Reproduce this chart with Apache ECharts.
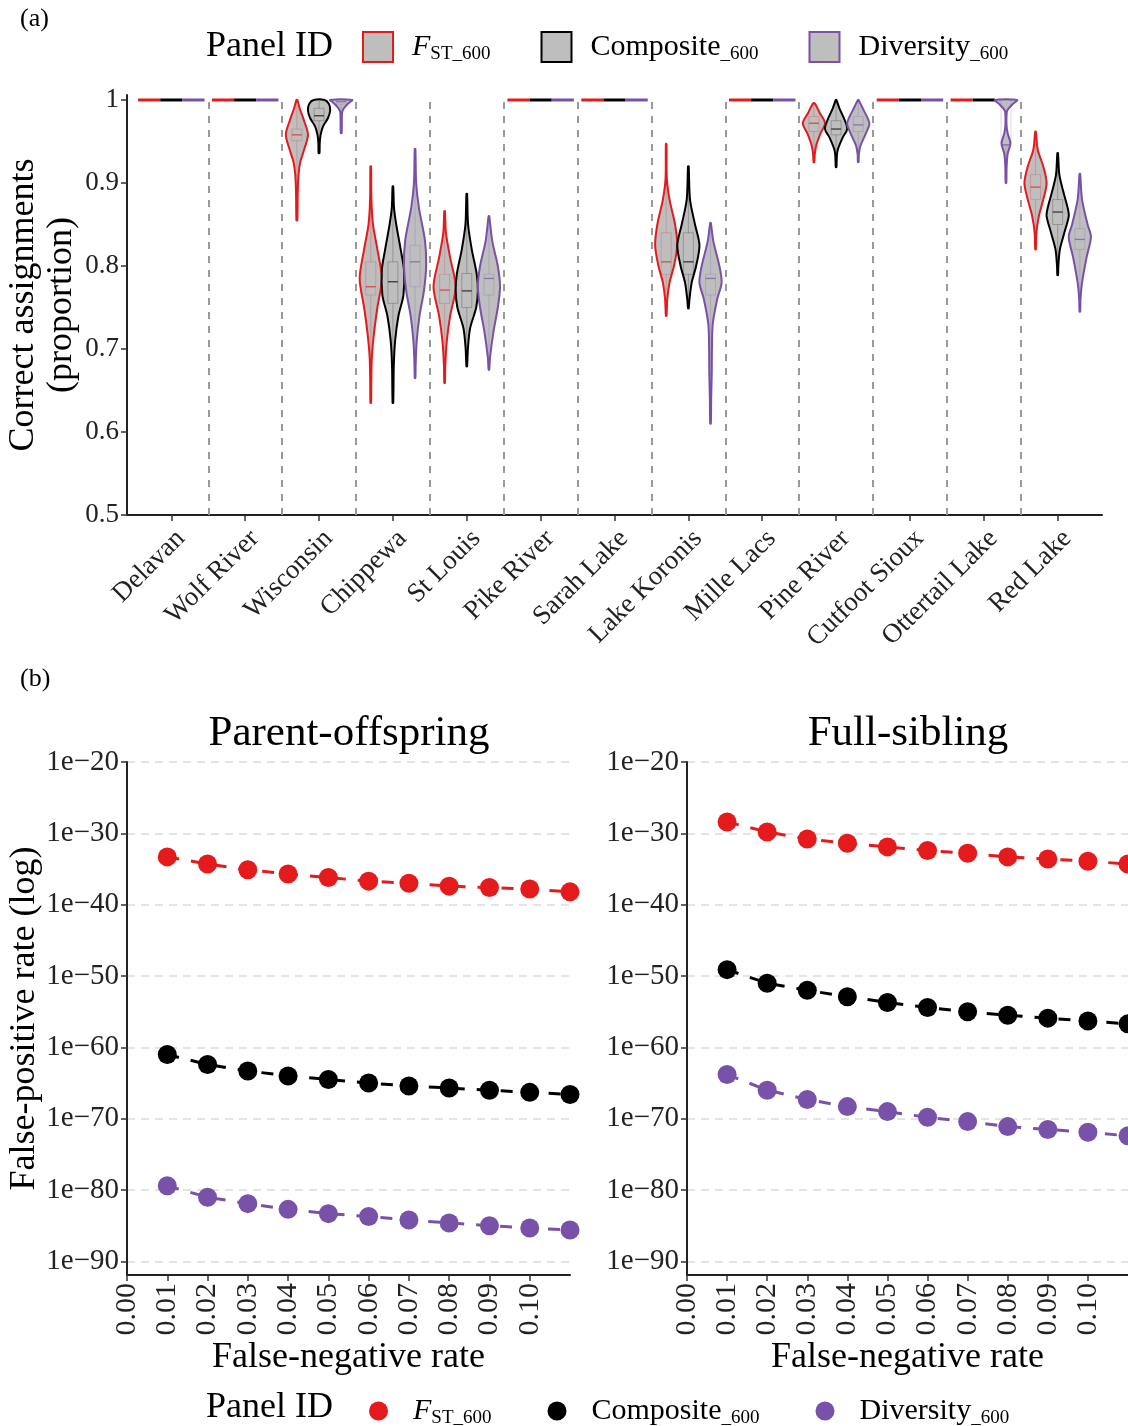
<!DOCTYPE html>
<html><head><meta charset="utf-8">
<script src="https://cdn.jsdelivr.net/npm/echarts@6/dist/echarts.min.js"></script>
<style>html,body{margin:0;padding:0;background:#fff}#c{width:1128px;height:1426px}</style>
</head><body><div id="c"></div><script>
// ---------- Panel (a) data ----------
const categories = ['Delavan','Wolf River','Wisconsin','Chippewa','St Louis','Pike River','Sarah Lake','Lake Koronis','Mille Lacs','Pine River','Cutfoot Sioux','Ottertail Lake','Red Lake'];
const seriesNames = ['FST_600','Composite_600','Diversity_600'];
const yTicksA = [0.5,0.6,0.7,0.8,0.9,1.0];
const FULL = [[1,1]];
// violin outlines: [proportion, relative half-width]
const fstProfiles = [FULL, FULL,
  [[1.0,0.04],[0.99,0.25],[0.975,0.65],[0.958,1.0],[0.94,0.65],[0.925,0.3],[0.91,0.15],[0.89,0.08],[0.855,0.04]],
  [[0.92,0.03],[0.88,0.06],[0.85,0.2],[0.82,0.6],[0.785,1.0],[0.75,0.6],[0.72,0.3],[0.69,0.1],[0.66,0.05],[0.635,0.03]],
  [[0.866,0.03],[0.84,0.12],[0.81,0.5],[0.775,1.0],[0.74,0.5],[0.71,0.2],[0.68,0.06],[0.659,0.03]],
  FULL, FULL,
  [[0.947,0.03],[0.905,0.06],[0.88,0.3],[0.85,0.8],[0.825,1.0],[0.8,0.7],[0.78,0.3],[0.76,0.1],[0.74,0.03]],
  FULL,
  [[0.996,0.08],[0.985,0.5],[0.972,1.0],[0.96,0.6],[0.945,0.2],[0.935,0.08],[0.925,0.03]],
  FULL, FULL,
  [[0.962,0.03],[0.94,0.2],[0.92,0.7],[0.9,1.0],[0.88,0.7],[0.86,0.3],[0.84,0.08],[0.82,0.03]]
];
const compProfiles = [FULL, FULL,
  [[1.0,0.5],[0.995,0.9],[0.987,1.0],[0.978,0.8],[0.968,0.35],[0.958,0.14],[0.948,0.06],[0.936,0.04]],
  [[0.896,0.03],[0.87,0.1],[0.85,0.3],[0.82,0.7],[0.795,1.0],[0.765,0.95],[0.74,0.5],[0.71,0.2],[0.68,0.08],[0.635,0.03]],
  [[0.887,0.03],[0.85,0.12],[0.82,0.45],[0.79,0.9],[0.77,1.0],[0.75,0.85],[0.725,0.3],[0.7,0.1],[0.679,0.03]],
  FULL, FULL,
  [[0.92,0.03],[0.88,0.15],[0.85,0.6],[0.825,1.0],[0.8,0.7],[0.78,0.3],[0.76,0.1],[0.749,0.03]],
  FULL,
  [[1.0,0.03],[0.99,0.3],[0.975,0.8],[0.965,1.0],[0.955,0.6],[0.94,0.15],[0.93,0.06],[0.919,0.03]],
  FULL, FULL,
  [[0.936,0.03],[0.91,0.15],[0.89,0.5],[0.87,0.9],[0.86,1.0],[0.84,0.6],[0.82,0.2],[0.8,0.06],[0.789,0.03]]
];
const divProfiles = [FULL, FULL,
  [[1.0,1.0],[0.997,0.75],[0.994,0.5],[0.99,0.25],[0.985,0.08],[0.96,0.04]],
  [[0.941,0.03],[0.9,0.1],[0.87,0.35],[0.83,0.9],[0.8,1.0],[0.77,0.8],[0.74,0.4],[0.71,0.15],[0.68,0.05],[0.665,0.03]],
  [[0.86,0.03],[0.83,0.3],[0.8,0.8],[0.775,1.0],[0.75,0.8],[0.72,0.4],[0.69,0.1],[0.675,0.03]],
  FULL, FULL,
  [[0.852,0.03],[0.83,0.25],[0.8,0.8],[0.78,1.0],[0.76,0.6],[0.73,0.2],[0.7,0.13],[0.67,0.11],[0.64,0.06],[0.61,0.03]],
  FULL,
  [[1.0,0.03],[0.99,0.4],[0.972,1.0],[0.96,0.7],[0.945,0.2],[0.935,0.06],[0.925,0.03]],
  FULL,
  [[1.0,1.0],[0.995,0.6],[0.99,0.25],[0.986,0.08],[0.97,0.05],[0.96,0.15],[0.948,0.4],[0.935,0.15],[0.92,0.06],[0.9,0.03]],
  [[0.911,0.03],[0.88,0.2],[0.85,0.7],[0.835,1.0],[0.81,0.6],[0.78,0.2],[0.76,0.06],[0.745,0.03]]
];
const fstQ1  = [null,null,0.951,0.765,0.755,null,null,0.79,null,0.962,null,null,0.88];
const fstMed = [null,null,0.958,0.775,0.771,null,null,0.805,null,0.972,null,null,0.895];
const fstQ3  = [null,null,0.965,0.805,0.79,null,null,0.84,null,0.98,null,null,0.91];
const compQ1 = [null,null,0.975,0.755,0.75,null,null,0.79,null,0.958,null,null,0.85];
const compMed= [null,null,0.981,0.781,0.770,null,null,0.805,null,0.965,null,null,0.865];
const compQ3 = [null,null,0.99,0.805,0.791,null,null,0.84,null,0.975,null,null,0.88];
const divQ1  = [null,null,0.995,0.775,0.765,null,null,0.765,null,0.962,null,0.945,0.82];
const divMed = [null,null,0.998,0.805,0.785,null,null,0.785,null,0.97,null,0.946,0.832];
const divQ3  = [null,null,1.0,0.825,0.79,null,null,0.79,null,0.98,null,1.0,0.845];

// ---------- Panel (b) data (log10 of false-positive rate) ----------
const fnRates = [0.01,0.02,0.03,0.04,0.05,0.06,0.07,0.08,0.09,0.10,0.11];
const xTicksB = [0.00,0.01,0.02,0.03,0.04,0.05,0.06,0.07,0.08,0.09,0.10];
const yTicksB = [-90,-80,-70,-60,-50,-40,-30,-20];
const poFstLog10  = [-33.3,-34.3,-35.1,-35.7,-36.2,-36.7,-37.0,-37.4,-37.6,-37.8,-38.2];
const poCompLog10 = [-61.0,-62.4,-63.3,-64.0,-64.5,-65.0,-65.4,-65.7,-66.0,-66.3,-66.6];
const poDivLog10  = [-79.4,-81.0,-81.9,-82.7,-83.3,-83.7,-84.2,-84.6,-85.0,-85.3,-85.6];
const fsFstLog10  = [-28.4,-29.8,-30.8,-31.4,-31.9,-32.4,-32.8,-33.3,-33.6,-33.9,-34.3];
const fsCompLog10 = [-49.1,-51.0,-52.0,-52.9,-53.7,-54.4,-55.0,-55.5,-55.9,-56.3,-56.7];
const fsDivLog10  = [-63.8,-66.0,-67.3,-68.3,-69.0,-69.8,-70.4,-71.1,-71.5,-71.9,-72.4];

// ---------- styling ----------
const FONT = '"Liberation Serif", "DejaVu Serif", serif';
const COLORS = ['#e41a1c', '#000000', '#7851a9'];
const FILL = '#bebebe';
const offsets = [-0.3, 0, 0.3];

const chart = echarts.init(document.getElementById('c'), null, {renderer: 'canvas'});

function violinSeries(si, profiles, q1, med, q3) {
  const color = COLORS[si];
  return {
    type: 'custom', name: seriesNames[si], xAxisIndex: 0, yAxisIndex: 0,
    data: categories.map((c, i) => [i + 1]),
    clip: false, z: 3,
    itemStyle: {color: FILL, borderColor: color, borderWidth: 2},
    renderItem: function (params, api) {
      const i = params.dataIndex;
      const cx = api.value(0) + offsets[si];
      const prof = profiles[i];
      const unit = api.size([1, 0])[0];
      const half = 0.15 * unit;
      const children = [];
      if (prof.length === 1) {
        const p = api.coord([cx, prof[0][0]]);
        children.push({type: 'line', shape: {x1: p[0] - half, y1: p[1], x2: p[0] + half, y2: p[1]},
          style: {stroke: color, lineWidth: 3}});
      } else {
        const left = [], right = [];
        prof.forEach(function (d) {
          const p = api.coord([cx, d[0]]);
          left.push([p[0] - d[1] * half, p[1]]);
          right.push([p[0] + d[1] * half, p[1]]);
        });
        const pts = left.concat(right.reverse());
        children.push({type: 'polygon', shape: {points: pts, smooth: 0.3},
          style: {fill: FILL, stroke: color, lineWidth: 2}});
        if (q1[i] != null) {
          const c = api.coord([cx, 1])[0];
          const bh = 0.45 * half;
          const yq1 = api.coord([cx, q1[i]])[1], yq3 = api.coord([cx, q3[i]])[1];
          const ytop = api.coord([cx, prof[0][0]])[1], ybot = api.coord([cx, prof[prof.length - 1][0]])[1];
          const faint = {stroke: color, lineWidth: 1, opacity: 0.22, fill: null};
          children.push({type: 'line', shape: {x1: c, y1: ytop, x2: c, y2: yq3}, style: faint});
          children.push({type: 'line', shape: {x1: c, y1: yq1, x2: c, y2: ybot}, style: faint});
          children.push({type: 'rect', shape: {x: c - bh, y: yq3, width: 2 * bh, height: Math.max(1, yq1 - yq3)}, style: faint});
          if (med[i] != null) {
            const ym = api.coord([cx, med[i]])[1];
            children.push({type: 'line', shape: {x1: c - bh, y1: ym, x2: c + bh, y2: ym},
              style: {stroke: color, lineWidth: 1.3, opacity: 0.7}});
          }
        }
      }
      return {type: 'group', children: children};
    }
  };
}

function fprSeries(si, data, xi) {
  return {
    type: 'line', name: seriesNames[si], xAxisIndex: xi, yAxisIndex: xi,
    data: fnRates.map((x, k) => [x, data[k]]),
    symbol: 'circle', symbolSize: 19, showSymbol: true,
    itemStyle: {color: COLORS[si]},
    lineStyle: {color: COLORS[si], width: 3, type: [12, 12]},
    clip: true, z: 3, animation: false
  };
}

const separators = categories.slice(0, -1).map((c, i) => ({xAxis: i + 1.5}));

const axisLineStyle = {show: true, lineStyle: {color: '#222', width: 2}};
const tickStyle = {show: true, length: 6, lineStyle: {color: '#333', width: 1.5}};

function richFmt(name) {
  if (name === 'FST_600') return '{it|F}{sub|ST_600}';
  if (name === 'Composite_600') return '{n|Composite}{sub|_600}';
  return '{n|Diversity}{sub|_600}';
}
const legendRich = {
  it: {fontFamily: FONT, fontSize: 30, fontStyle: 'italic', lineHeight: 34, color: '#000'},
  n: {fontFamily: FONT, fontSize: 30, lineHeight: 34, color: '#000'},
  sub: {fontFamily: FONT, fontSize: 19, lineHeight: 34, verticalAlign: 'bottom', color: '#000'}
};

function bAxes(gi, showName) {
  return {
    x: {
      type: 'value', gridIndex: gi, min: 0, max: 0.11,
      name: 'False-negative rate', nameLocation: 'middle', nameGap: 56,
      nameTextStyle: {fontFamily: FONT, fontSize: 36, color: '#000'},
      axisLine: axisLineStyle, axisTick: Object.assign({customValues: xTicksB}, tickStyle),
      axisLabel: {customValues: xTicksB, rotate: 90, margin: 8, fontFamily: FONT, fontSize: 30, color: '#222',
        formatter: v => v.toFixed(2)},
      splitLine: {show: false}
    },
    y: {
      type: 'value', gridIndex: gi, min: -91.9, max: -20,
      name: showName ? 'False-positive rate (log)' : '', nameLocation: 'middle', nameGap: 82,
      nameTextStyle: {fontFamily: FONT, fontSize: 36, color: '#000'},
      axisLine: axisLineStyle, axisTick: Object.assign({customValues: yTicksB}, tickStyle),
      axisLabel: {customValues: yTicksB, margin: 8, fontFamily: FONT, fontSize: 29, color: '#222',
        formatter: v => '1e\u2212' + Math.abs(Math.round(v))},
      splitLine: {show: true, lineStyle: {color: '#dcdcdc', width: 1.5, type: [8, 6]}}
    }
  };
}
const bL = bAxes(1, true), bR = bAxes(2, false);

const option = {
  backgroundColor: '#ffffff',
  animation: false,
  textStyle: {fontFamily: FONT},
  grid: [
    {left: 127, width: 975, top: 95, height: 420, outerBoundsMode: 'none', containLabel: false},
    {left: 127, width: 443, top: 762, height: 513, outerBoundsMode: 'none', containLabel: false},
    {left: 687, width: 441, top: 762, height: 513, outerBoundsMode: 'none', containLabel: false}
  ],
  xAxis: [
    {
      type: 'value', gridIndex: 0, min: 0.4, max: 13.6,
      axisLine: axisLineStyle,
      axisTick: Object.assign({customValues: categories.map((c, i) => i + 1)}, tickStyle),
      axisLabel: {customValues: categories.map((c, i) => i + 1), rotate: 45, margin: 10,
        align: 'right', verticalAlign: 'top',
        fontFamily: FONT, fontSize: 27, color: '#222',
        formatter: v => categories[Math.round(v) - 1]},
      splitLine: {show: false}
    },
    bL.x, bR.x
  ],
  yAxis: [
    {
      type: 'value', gridIndex: 0, min: 0.5, max: 1.006,
      name: 'Correct assignments\n(proportion)', nameLocation: 'middle', nameGap: 46,
      nameMoveOverlap: false,
      nameTextStyle: {fontFamily: FONT, fontSize: 36, lineHeight: 38, color: '#000'},
      axisLine: axisLineStyle, axisTick: Object.assign({customValues: yTicksA}, tickStyle),
      axisLabel: {customValues: yTicksA, margin: 8, fontFamily: FONT, fontSize: 27, color: '#222',
        formatter: v => (Math.abs(v - 1) < 1e-9 ? '1' : v.toFixed(1))},
      splitLine: {show: false}
    },
    bL.y, bR.y
  ],
  legend: [
    {
      left: 357, top: 26, orient: 'horizontal', itemGap: 50, itemWidth: 30, itemHeight: 30,
      selectedMode: false,
      data: seriesNames.map((n, i) => ({name: n, icon: 'rect',
        itemStyle: {color: FILL, borderColor: COLORS[i], borderWidth: 2}})),
      formatter: richFmt,
      textStyle: {fontFamily: FONT, fontSize: 30, color: '#000', padding: [0, 0, 0, 14], rich: legendRich}
    },
    {
      left: 364, top: 1391, orient: 'horizontal', itemGap: 56, itemWidth: 19, itemHeight: 19,
      selectedMode: false,
      data: seriesNames.map((n, i) => ({name: n, icon: 'circle',
        itemStyle: {color: COLORS[i], borderWidth: 0}})),
      formatter: richFmt,
      textStyle: {fontFamily: FONT, fontSize: 30, color: '#000', padding: [0, 0, 0, 20], rich: legendRich}
    }
  ],
  graphic: [
    {type: 'text', x: 20, y: 19, style: {text: '(a)', fontFamily: FONT, fontSize: 26, fill: '#000', align: 'left', verticalAlign: 'middle'}},
    {type: 'text', x: 20, y: 679, style: {text: '(b)', fontFamily: FONT, fontSize: 26, fill: '#000', align: 'left', verticalAlign: 'middle'}},
    {type: 'text', x: 206, y: 47, style: {text: 'Panel ID', fontFamily: FONT, fontSize: 36, fill: '#000', align: 'left', verticalAlign: 'middle'}},
    {type: 'text', x: 206, y: 1408, style: {text: 'Panel ID', fontFamily: FONT, fontSize: 36, fill: '#000', align: 'left', verticalAlign: 'middle'}},
    {type: 'text', x: 349, y: 734, style: {text: 'Parent-offspring', fontFamily: FONT, fontSize: 43, fill: '#000', align: 'center', verticalAlign: 'middle'}},
    {type: 'text', x: 908, y: 734, style: {text: 'Full-sibling', fontFamily: FONT, fontSize: 43, fill: '#000', align: 'center', verticalAlign: 'middle'}}
  ],
  series: [
    Object.assign(violinSeries(0, fstProfiles, fstQ1, fstMed, fstQ3), {
      markLine: {silent: true, symbol: 'none', label: {show: false}, animation: false,
        lineStyle: {color: '#9a9a9a', width: 2, type: [7, 7]}, data: separators}
    }),
    violinSeries(1, compProfiles, compQ1, compMed, compQ3),
    violinSeries(2, divProfiles, divQ1, divMed, divQ3),
    fprSeries(0, poFstLog10, 1), fprSeries(1, poCompLog10, 1), fprSeries(2, poDivLog10, 1),
    fprSeries(0, fsFstLog10, 2), fprSeries(1, fsCompLog10, 2), fprSeries(2, fsDivLog10, 2)
  ]
};
chart.setOption(option);
</script></body></html>
